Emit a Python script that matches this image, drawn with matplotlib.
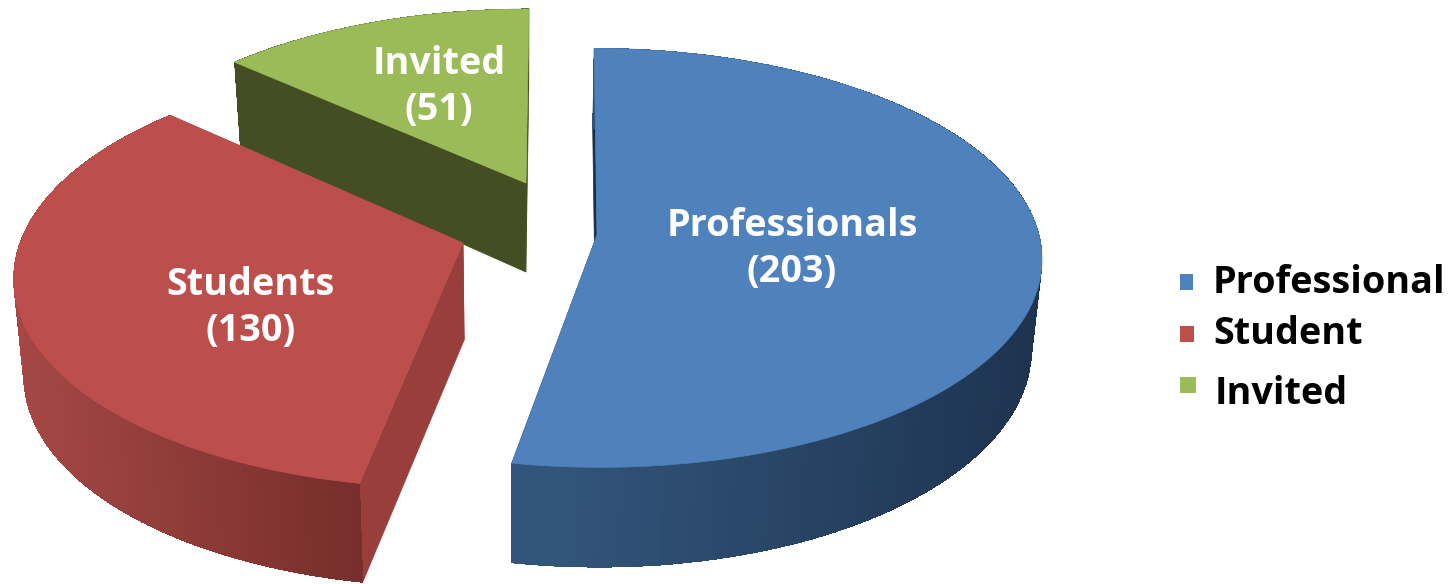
"""Exploded 3D-look pie of participant types, projected by hand onto a flat axes."""

import numpy as np
import matplotlib.pyplot as plt
from matplotlib.colors import to_rgb
from matplotlib.patches import Rectangle

plt.rcParams["font.family"] = ["Open Sans", "DejaVu Sans"]

# data
slice_names = ["Professionals", "Students", "Invited"]
slice_values = [203, 130, 51]
legend_names = ["Professional", "Student", "Invited"]

# look of each slice (apex, radii, perspective k, lean)
apex_x = [597, 463, 526]
apex_y = [235, 243, 183]
radius_x = [442, 443, 425]
radius_y = [207, 209, 193]
persp = [0.109, 0.147, 0.109]
shear = [-0.015, 0.045, 0.017]
depth = [89, 97, 89]
depth_persp = [0.109, 0.02, 0.109]
top_colors = ["#4F81BD", "#BC4F4B", "#9BBB59"]
cut_colors = ["#1B2E47", "#983F3C", "#434E22"]
wall_left = ["#34597F", "#A54845", "#434E22"]
wall_right = ["#1E3350", "#772E2C", "#434E22"]

label_x = [792, 251, 439]
label_y = [249, 308, 87]
label_size = 27.2

key_x = [1180, 1180, 1180]
key_y = [274, 326, 377]
key_w = [13, 14, 16]
legend_x = [1213, 1213, 1215]
legend_y = [283, 334, 394]

VANISH_X = 520
BOTTOM_SCALE = 0.98


def project(i, angle):
    """Ground angle (radians, clockwise from top) to screen position of the top face."""
    gx, gy = np.sin(angle), np.cos(angle)
    w = 1 + persp[i] * gy
    up = radius_y[i] * gy / w
    return apex_x[i] + radius_x[i] * gx / w + shear[i] * up, apex_y[i] - up


def drop(i, x, y, gy):
    """Same point on the bottom face of the slab."""
    return VANISH_X + (x - VANISH_X) * BOTTOM_SCALE, y + depth[i] / (1 + depth_persp[i] * gy)


fig = plt.figure(figsize=(14.5, 5.84), dpi=100)
ax = fig.add_axes([0, 0, 1, 1])
ax.set_xlim(0, 1450)
ax.set_ylim(584, 0)
ax.axis("off")

edges = np.cumsum([0] + slice_values) / sum(slice_values) * 2 * np.pi

# back slices first so the nearer ones cover them
for i in [2, 1, 0]:
    start, end = edges[i], edges[i + 1]
    angles = np.linspace(start, end, 120)
    xs, ys = project(i, angles)
    ax0, ay0 = apex_x[i], apex_y[i]
    bx0, by0 = drop(i, ax0, ay0, 0)

    # two flat cut faces
    for a in (start, end):
        x1, y1 = project(i, a)
        bx1, by1 = drop(i, x1, y1, np.cos(a))
        ax.fill([ax0, x1, bx1, bx0], [ay0, y1, by1, by0], color=cut_colors[i], lw=0.5)

    # outer wall in shaded strips, each one overlapping the next to hide seams
    bxs, bys = drop(i, xs, ys, np.cos(angles))
    span = max(xs.max() - xs.min(), 1)
    c_l, c_r = np.array(to_rgb(wall_left[i])), np.array(to_rgb(wall_right[i]))
    for j in range(len(angles) - 3):
        t = (xs[j] - xs.min()) / span
        ax.fill([xs[j], xs[j + 3], bxs[j + 3], bxs[j]],
                [ys[j], ys[j + 3], bys[j + 3], bys[j]],
                color=c_l + (c_r - c_l) * t, lw=0, antialiased=False)

    ax.fill(np.r_[ax0, xs], np.r_[ay0, ys], color=top_colors[i], lw=0.5)

for i, name in enumerate(slice_names):
    ax.text(label_x[i], label_y[i], f"{name}\n({slice_values[i]})", color="white",
            fontsize=label_size, fontweight="bold", ha="center", va="center",
            linespacing=1.27)

for i, name in enumerate(legend_names):
    ax.add_patch(Rectangle((key_x[i], key_y[i]), key_w[i], 16, color=top_colors[i], lw=0))
    ax.text(legend_x[i], legend_y[i], name, color="black", fontsize=label_size,
            fontweight="bold", ha="left", va="center")

fig.savefig("out.png", dpi=100)
